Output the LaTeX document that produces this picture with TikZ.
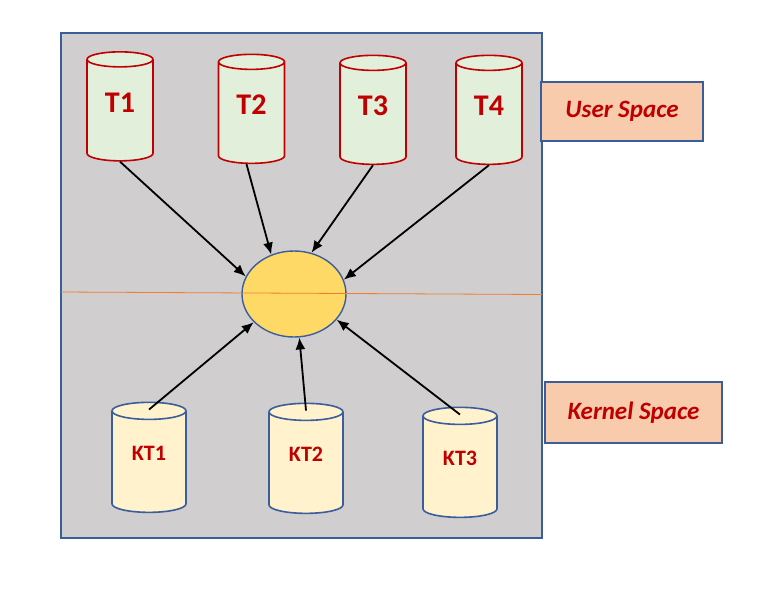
\documentclass[tikz,border=0pt]{standalone}
\usepackage{fontspec}
\setmainfont{Carlito}
\usetikzlibrary{shapes.geometric,arrows.meta}

\definecolor{tred}{HTML}{C00000}
\definecolor{tblue}{HTML}{3A5E9C}
\definecolor{tgray}{HTML}{D0CECE}
\definecolor{tgreen}{HTML}{E2EFDA}
\definecolor{tcream}{HTML}{FFF2CC}
\definecolor{tsun}{HTML}{FFD966}
\definecolor{tpeach}{HTML}{F8CBAD}
\definecolor{torange}{HTML}{ED7D31}

\begin{document}
\begin{tikzpicture}[x=1pt, y=-1pt, >={Latex[length=12pt,width=10pt]},
    uthread/.style = {cylinder, shape border rotate=90, aspect=0.5, draw=tred, fill=tgreen, line width=1.6pt, minimum width=66pt, minimum height=109pt, inner sep=0pt, text depth=16pt, text=tred, font=\fontsize{30}{30}\selectfont\bfseries},
    kthread/.style = {cylinder, shape border rotate=90, aspect=0.5, draw=tblue, fill=tcream, line width=1.6pt, minimum width=74pt, minimum height=110pt, inner sep=0pt, text depth=18pt, text=tred, font=\fontsize{22}{22}\selectfont\bfseries},
    space/.style = {draw=tblue, fill=tpeach, line width=1.4pt, inner sep=0pt, text=tred, font=\fontsize{25}{25}\selectfont\bfseries\itshape}]

    \useasboundingbox (0,0) rectangle (768,590);
    \draw[tblue, fill=tgray, line width=1.4pt] (61,33) rectangle (542,538);

    \node[ellipse, draw=tblue, fill=tsun, line width=1.4pt, minimum width=104pt, minimum height=86pt] (core) at (294,294) {};

    \coordinate (left) at (61,292);
    \coordinate (right) at (542,294.5);
    \draw[torange, line width=0.8pt] (left) -- (right);

    \node[uthread] (t1) at (120,110.5) {T1};
    \node[uthread] (t2) at (251.5,113) {T2};
    \node[uthread] (t3) at (373,114) {T3};
    \node[uthread] (t4) at (489,114) {T4};

    \node[kthread] (kt1) at (149,462) {KT1};
    \node[kthread] (kt2) at (306,463) {KT2};
    \node[kthread] (kt3) at (460,467) {KT3};

    \node[space, minimum width=162pt, minimum height=59pt] (user) at (622,111.5) {User Space};
    \node[space, minimum width=177pt, minimum height=61pt] (kernel) at (633.5,412.5) {Kernel Space};

    \draw[->, line width=1.8pt] (t1.south) -- (core.160);
    \draw[->, line width=1.8pt] ([xshift=-5pt]t2.south) -- (core.120);
    \draw[->, line width=1.8pt] (t3.south) -- (core.67);
    \draw[->, line width=1.8pt] (t4.south) -- (core.16);
    \draw[->, line width=1.8pt] ([yshift=-8pt]kt1.north) -- (core.215);
    \draw[->, line width=1.8pt] ([yshift=-8pt]kt2.north) -- (core.277);
    \draw[->, line width=1.8pt] ([yshift=-8pt]kt3.north) -- (core.329);
\end{tikzpicture}
\end{document}
